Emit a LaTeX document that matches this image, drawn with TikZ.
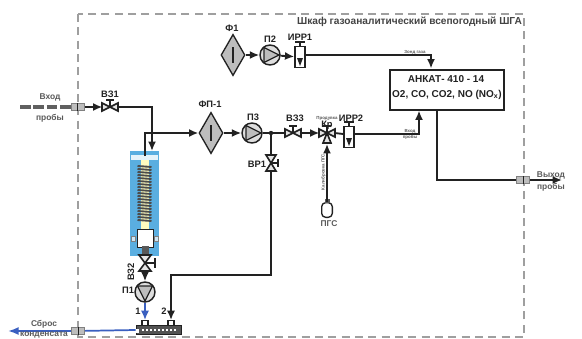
\documentclass[tikz,border=0pt]{standalone}
\usepackage{fontspec}
\setmainfont{Liberation Sans}
\usetikzlibrary{arrows.meta,shapes.geometric}
\definecolor{cool}{HTML}{5AAEE0}
\definecolor{drain}{HTML}{3A5FC0}
\definecolor{filt}{HTML}{BDBDBD}
\definecolor{ink}{HTML}{222222}
\tikzset{
 pipe/.style={draw=ink,line width=1.4pt},
 flow/.style={pipe,-{Latex[length=7pt,width=6pt]}},
 blue pipe/.style={draw=drain,line width=1.3pt},
 filterbox/.style={diamond,draw=ink,fill=filt,line width=1pt,minimum width=18pt,minimum height=31pt,inner sep=0pt,aspect=0.6},
 pumpbox/.style={circle,draw=ink,fill=filt!50,line width=1.1pt,minimum size=15pt,inner sep=0pt},
 valvebox/.style={inner sep=0pt,minimum width=11pt,minimum height=8pt},
 rotorbox/.style={draw=ink,fill=white,line width=1.1pt,minimum width=7.5pt,minimum height=16pt,inner sep=0pt},
 portbox/.style={draw=gray,fill=filt,line width=.5pt,minimum width=10pt,minimum height=5.5pt,inner sep=0pt},
 lab/.style={inner sep=0pt,text=ink,font=\bfseries\fontsize{7}{8}\selectfont},
 smalllab/.style={inner sep=0pt,text=gray!70!black,font=\bfseries\fontsize{6.3}{7}\selectfont},
 tinylab/.style={inner sep=0pt,text=gray!70!black,font=\bfseries\fontsize{3.3}{3.5}\selectfont},
}
\newcommand{\valveshape}[3]{%
 \begin{scope}[shift={(#1,#2)},rotate=#3]
  \draw[draw=ink,fill=filt!40,line width=1.2pt] (-8,-4)--(0,0)--(-8,4)--cycle (8,-4)--(0,0)--(8,4)--cycle;
  \draw[draw=ink,line width=1.2pt] (0,0)--(0,-7) (-4,-7)--(4,-7);
 \end{scope}}
\begin{document}
\begin{tikzpicture}[x=0.75pt,y=-0.75pt]
\useasboundingbox (0,0) rectangle (582,339);
% cabinet
\draw[draw=gray!75,line width=1pt,dash pattern=on 6pt off 4pt] (78,14) rectangle (524,337);
\node[inner sep=0pt,text=ink!85,font=\bfseries\fontsize{7.6}{8}\selectfont] (title) at (409.5,22) {Шкаф газоаналитический всепогодный ШГА};
% cooler
\node[fill=cool,minimum width=21.5pt,minimum height=79pt,inner sep=0pt] (cooler) at (144.5,203.5) {};
\fill[white!85!cool] (131,155) rectangle (158,160);
\fill[yellow!25] (141,160) rectangle (149,230);
\foreach \yy in {166,169,...,221}
  \draw[draw=gray!60!black,line width=1.4pt] (137.5,\yy) -- (151.5,\yy+1);
\node[draw=ink,fill=white,line width=.7pt,minimum width=12pt,minimum height=14pt,inner sep=0pt] (block) at (145,238.5) {};
\fill[white!70!cool,draw=gray,line width=.3pt] (131.5,236) rectangle (135.5,241) (154.5,236) rectangle (158.5,241);
\fill[gray!70!black] (141.5,246) rectangle (148.5,256);
% analyser
\node[draw=ink,fill=white,line width=1.5pt,minimum width=86pt,minimum height=30pt,inner sep=0pt] (ankat) at (447,89.5) {};
\node[inner sep=0pt,text=ink,font=\bfseries\fontsize{7.5}{8}\selectfont] (ankatA) at (446,79) {АНКАТ- 410 - 14};
\node[inner sep=0pt,text=ink,font=\bfseries\fontsize{7.5}{8}\selectfont] (ankatB) at (447,95) {O2, CO, CO2, NO (NO$_{\mathbf{x}}$)};
% filters and pumps
\node[filterbox] (f1) at (233,55) {};
\draw[draw=ink,line width=1.1pt] (233,47) -- (233,63);
\node[filterbox] (fp1) at (211,133) {};
\draw[draw=ink,line width=1.1pt] (211,125) -- (211,141);
\node[pumpbox] (p2) at (270,55) {};
\draw[draw=ink,fill=filt,line width=1pt] (264,47.5)--(279,55)--(264,62.5)--cycle;
\node[pumpbox] (p3) at (252,133) {};
\draw[draw=ink,fill=filt,line width=1pt] (246,125.5)--(261,133)--(246,140.5)--cycle;
\node[pumpbox] (p1) at (145,292) {};
\draw[draw=ink,fill=filt,line width=1pt] (137.5,286)--(145,301)--(152.5,286)--cycle;
% rotameters
\node[rotorbox] (irr1) at (300,57) {};
\draw[draw=ink,line width=1.1pt] (300,46)--(300,42) (295,42)--(305,42);
\fill[ink] (297,58)--(303,58)--(300,66)--cycle;
\node[rotorbox] (irr2) at (349,137) {};
\draw[draw=ink,line width=1.1pt] (349,126)--(349,122) (344,122)--(354,122);
\fill[ink] (346,138)--(352,138)--(349,146)--cycle;
% valves
\node[valvebox] (vz1) at (110,107) {}; \valveshape{110}{107}{0}
\node[valvebox] (vz3) at (293,133) {}; \valveshape{293}{133}{0}
\node[valvebox] (kr) at (327,133) {}; \valveshape{327}{133}{0}
\draw[draw=ink,fill=filt!40,line width=1.2pt] (323,143)--(327,133)--(331,143)--cycle;
\node[valvebox,minimum width=8pt,minimum height=11pt] (vr1) at (271,163) {};
\draw[draw=ink,fill=filt!40,line width=1.2pt] (266,155)--(276,155)--(271,163)--cycle (266,171)--(276,171)--(271,163)--cycle;
\draw[draw=ink,line width=1.2pt] (271,163)--(278,163) (278,159)--(278,167);
\node[valvebox,minimum width=8pt,minimum height=11pt] (vz2) at (145,263) {};
\draw[draw=ink,fill=filt!40,line width=1.2pt] (139,255)--(151,255)--(145,263)--cycle (139,271)--(151,271)--(145,263)--cycle;
\draw[draw=ink,line width=1.2pt] (145,263)--(155,263) (155,258)--(155,268);
% ports
\node[portbox] (in) at (77.5,107) {};
\node[portbox] (out) at (523,180) {};
\node[portbox] (waste) at (78,331) {};
\draw[draw=ink,line width=.5pt] (in.north)--(in.south) (out.north)--(out.south) (waste.north)--(waste.south);
% gas bottle
\node[draw=ink,fill=white,line width=1pt,rounded corners=3pt,minimum width=8pt,minimum height=11pt,inner sep=0pt] (pgs) at (327,210) {};
\fill[gray!70!black] (324.5,199) rectangle (329.5,203);
% drain block
\node[draw=ink,fill=gray!65!black,line width=1pt,minimum width=34pt,minimum height=6.5pt,inner sep=0pt] (sep) at (159,330) {};
\fill[white] (136,329) rectangle (139,333);
\draw[draw=white,line width=.8pt,dash pattern=on 1.5pt off 1.5pt] (142,330)--(178,330);
\node[draw=ink,fill=white,line width=.9pt,minimum width=4.5pt,minimum height=3.5pt,inner sep=0pt] (sepA) at (145,323) {};
\node[draw=ink,fill=white,line width=.9pt,minimum width=4.5pt,minimum height=3.5pt,inner sep=0pt] (sepB) at (171,323) {};
% connectors
\coordinate (src) at (20,107);
\coordinate (sink) at (8,331);
\coordinate (exit) at (562,180);
\draw[pipe,line width=2.6pt,dash pattern=on 8pt off 2pt,draw=gray!75!black] (src) -- (in);
\draw[flow] (in) -- (vz1);
\draw[flow] (vz1.east) -- (152,107) -- (152,151);
\draw[flow] (145,156) -- (145,133) -- (fp1);
\draw[flow] (fp1) -- (p3);
\draw[pipe] (p3) -- (vz3.west);
\draw[flow] (vz3.east) -- (kr.west);
\draw[flow] (f1) -- (p2);
\draw[flow] (p2) -- (irr1);
\draw[flow] (irr1.east |- 0,55) -- (431,55) -- (ankat.north -| 431,0);
\draw[flow] (irr2.east |- 0,134) -- (419,134) -- (ankat.south -| 419,0);
\draw[pipe] (kr.east) -- (irr2.west |- 0,134);
\draw[pipe] (271,133) -- (vr1.north);
\fill[ink] (271,133) circle (2.2);
\draw[flow] (271,171) -- (271,275) -- (171,275) -- (sepB.north);
\draw[pipe] (ankat.south -| 437,0) -- (437,180) -- (out);
\draw[flow] (out) -- (exit);
\draw[pipe] (vz2.south) -- (145,271);
\draw[flow] (145,271) -- (p1);
\draw[blue pipe,-{Latex[length=7pt,width=6pt]}] (p1) -- (sepA.north);
\draw[blue pipe] (sep.west) -- (waste);
\draw[blue pipe,-{Latex[length=8pt,width=6pt]}] (waste) -- (sink);
\draw[flow] (pgs.north) -- (327,144);
% labels
\node[lab] (lf1) at (232,28) {Ф1};
\node[lab] (lp2) at (270,39) {П2};
\node[lab] (lirr1) at (300,37) {ИРР1};
\node[lab] (lvz1) at (110,94) {ВЗ1};
\node[lab] (lfp1) at (210,104) {ФП-1};
\node[lab] (lp3) at (253,117) {П3};
\node[lab] (lvz3) at (295,118) {ВЗ3};
\node[lab] (lkr) at (327,125) {Кр};
\node[lab] (lirr2) at (351,118) {ИРР2};
\node[lab] (lvr1) at (257,164) {ВР1};
\node[lab,rotate=90] (lvz2) at (131,272) {ВЗ2};
\node[lab] (lp1) at (128,290) {П1};
\node[lab] (lone) at (138,311) {1};
\node[lab] (ltwo) at (164,311) {2};
\node[smalllab] (lin1) at (50,97) {Вход};
\node[smalllab] (lin2) at (50,118) {пробы};
\node[smalllab] (lout1) at (551,175) {Выход};
\node[smalllab] (lout2) at (551,187) {пробы};
\node[smalllab] (lw1) at (44,324) {Сброс};
\node[smalllab] (lw2) at (44,335) {конденсата};
\node[smalllab] (lpgs) at (329,224) {ПГС};
\node[tinylab] (t1) at (415,52) {Зонд газа};
\node[tinylab] (t2) at (410,131) {Вход};
\node[tinylab] (t3) at (410,137) {пробы};
\node[tinylab] (t4) at (327,118) {Продувка};
\node[tinylab,rotate=90] (t5) at (323.5,172) {Калибровка ПГС};
\end{tikzpicture}
\end{document}
